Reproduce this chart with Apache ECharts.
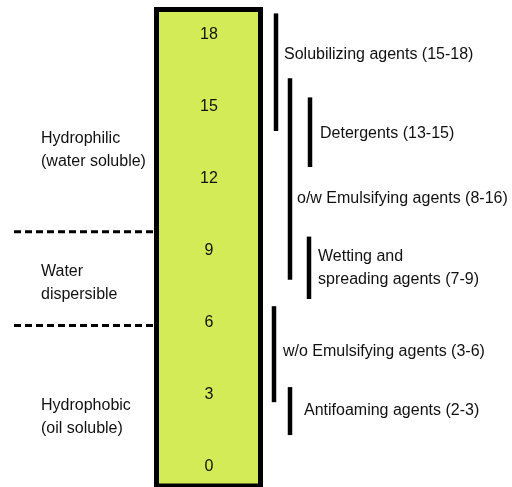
<!DOCTYPE html>
<html>
<head>
<meta charset="utf-8">
<script src="https://cdn.jsdelivr.net/npm/echarts@6/dist/echarts.min.js"></script>
<style>
html,body{margin:0;padding:0;background:#fff;}
#chart{width:512px;height:487px;}
</style>
</head>
<body>
<div id="chart"></div>
<script>
// ---- data (HLB scale) ----
const hlbTicks = [0, 3, 6, 9, 12, 15, 18];
const scaleRange = [-0.9, 19.17];
const dividers = [9.8, 5.9];
const regionNames = ['Hydrophilic\n(water soluble)', 'Water\ndispersible', 'Hydrophobic\n(oil soluble)'];
const regionCenters = [13.2, 7.65, 2.1];
const agentNames = [
  'Solubilizing agents (15-18)',
  'Detergents (13-15)',
  'o/w Emulsifying agents (8-16)',
  'Wetting and\nspreading agents (7-9)',
  'w/o Emulsifying agents (3-6)',
  'Antifoaming agents (2-3)'
];
const agentLow  = [14.0, 12.5, 7.8, 7.0, 2.7, 1.33];
const agentHigh = [18.9, 15.4, 16.2, 9.6, 6.7, 3.33];
const agentLabelAt = [17.2, 13.9, 11.2, 8.3, 4.8, 2.33];

// ---- layout (pixels along x) ----
const layout = {
  boxLeft: 154, boxRight: 263, boxBorder: 5,
  tickX: 209,
  dashFrom: 14, dashTo: 157,
  regionX: 41,
  barX:   [276, 310, 290, 309, 274, 290],
  labelX: [284, 320, 297, 318, 283, 304]
};
const font = 'Liberation Sans, Arial, sans-serif';
const textColor = '#111111';

const chart = echarts.init(document.getElementById('chart'), null, {renderer: 'canvas'});

const option = {
  animation: false,
  backgroundColor: '#ffffff',
  grid: {left: 0, right: 0, top: 7, bottom: 0},
  xAxis: {type: 'value', min: 0, max: 512, show: false},
  yAxis: {type: 'value', min: -0.8333, max: 19.1667, show: false},
  series: [
    { // scale box
      type: 'custom', coordinateSystem: 'cartesian2d', z: 1,
      data: [[scaleRange[0], scaleRange[1]]],
      renderItem: function (params, api) {
        const top = api.coord([layout.boxLeft, api.value(1)]);
        const bot = api.coord([layout.boxRight, api.value(0)]);
        const h = layout.boxBorder / 2;
        return {
          type: 'rect',
          shape: {x: top[0] + h, y: top[1] + h, width: bot[0] - top[0] - 2 * h, height: bot[1] - top[1] - 2 * h},
          style: {fill: '#d4eb58', stroke: '#000', lineWidth: layout.boxBorder}
        };
      }
    },
    { // tick numbers
      type: 'custom', coordinateSystem: 'cartesian2d', z: 3,
      data: hlbTicks.map(v => [v]),
      renderItem: function (params, api) {
        const v = api.value(0);
        const p = api.coord([layout.tickX, v]);
        return {
          type: 'text',
          style: {x: p[0], y: p[1], text: String(v), fill: textColor, font: '16px ' + font, textAlign: 'center', textVerticalAlign: 'middle'}
        };
      }
    },
    { // dashed dividers
      type: 'custom', coordinateSystem: 'cartesian2d', z: 0,
      data: dividers.map(v => [v]),
      renderItem: function (params, api) {
        const a = api.coord([layout.dashFrom, api.value(0)]);
        const b = api.coord([layout.dashTo, api.value(0)]);
        return {
          type: 'line',
          shape: {x1: a[0], y1: a[1], x2: b[0], y2: b[1]},
          style: {stroke: '#000', lineWidth: 3, lineDash: [7, 4]}
        };
      }
    },
    { // region labels
      type: 'custom', coordinateSystem: 'cartesian2d', z: 3,
      data: regionNames.map((n, i) => [regionCenters[i], i]),
      renderItem: function (params, api) {
        const i = api.value(1);
        const p = api.coord([layout.regionX, api.value(0)]);
        return {
          type: 'text',
          style: {x: p[0], y: p[1], text: regionNames[i], fill: textColor, font: '16px ' + font, lineHeight: 23, textAlign: 'left', textVerticalAlign: 'middle'}
        };
      }
    },
    { // agent range bars
      type: 'custom', coordinateSystem: 'cartesian2d', z: 3,
      data: agentNames.map((n, i) => [agentLow[i], agentHigh[i], i]),
      renderItem: function (params, api) {
        const i = api.value(2);
        const a = api.coord([layout.barX[i], api.value(0)]);
        const b = api.coord([layout.barX[i], api.value(1)]);
        return {
          type: 'line',
          shape: {x1: a[0], y1: a[1], x2: b[0], y2: b[1]},
          style: {stroke: '#000', lineWidth: 4.5}
        };
      }
    },
    { // agent labels
      type: 'custom', coordinateSystem: 'cartesian2d', z: 3,
      data: agentNames.map((n, i) => [agentLabelAt[i], i]),
      renderItem: function (params, api) {
        const i = api.value(1);
        const p = api.coord([layout.labelX[i], api.value(0)]);
        return {
          type: 'text',
          style: {x: p[0], y: p[1], text: agentNames[i], fill: textColor, font: '16px ' + font, lineHeight: 23, textAlign: 'left', textVerticalAlign: 'middle'}
        };
      }
    }
  ]
};
chart.setOption(option);
</script>
</body>
</html>
